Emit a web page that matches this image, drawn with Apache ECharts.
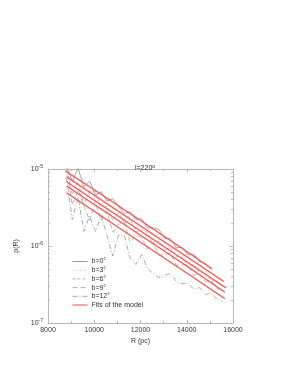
<!DOCTYPE html>
<html><head><meta charset="utf-8">
<script src="https://cdn.jsdelivr.net/npm/echarts@6/dist/echarts.min.js"></script>
<style>html,body{margin:0;padding:0;background:#fff}#c{width:282px;height:365px}</style>
</head><body><div id="c"></div>
<script>
// radii of the data samples (pc)
const R = [8800, 9050, 9300, 9550, 9800, 10050, 10300, 10550, 10800, 11050, 11300, 11550, 11800, 12050,
           12300, 12550, 12800, 13050, 13300, 13550, 13800, 14050, 14300, 14550, 14800, 15050, 15300, 15550];
// observed densities for each latitude
const b0 = [1.16e-5, 6.84e-6, 1.035e-5, 5.82e-6, 7.0e-6, 4.52e-6, 5.07e-6, 3.85e-6, 4.12e-6, 3.27e-6, 2.66e-6, 2.79e-6,
            2.21e-6, 2.26e-6, 1.72e-6, 1.72e-6, 1.64e-6, 1.245e-6, 1.245e-6, 9.44e-7, 9.66e-7, 7.67e-7, 7.85e-7, 6.24e-7,
            5.96e-7, 5.07e-7];
const b3 = [1.12e-5, 7.41e-6, 5.01e-6, 7.41e-6, 4.57e-6, 5.13e-6, 3.55e-6, 4.17e-6, 3.02e-6, 3.09e-6, 2.19e-6, 2.51e-6,
            2.09e-6, 1.66e-6, 1.74e-6, 1.35e-6, 1.41e-6, 1.12e-6, 9.33e-7, 9.55e-7, 7.59e-7, 7.76e-7, 6.17e-7, 5.89e-7,
            4.68e-7, 4.68e-7, 3.80e-7, 3.63e-7];
const b6 = [1.08e-5, 4.62e-6, 6.84e-6, 3.43e-6, 5.19e-6, 5.07e-6, 2.99e-6, 3.27e-6, 2.16e-6, 2.72e-6, 1.97e-6, 2.21e-6,
            1.53e-6, 1.60e-6, 1.50e-6, 1.06e-6, 1.16e-6, 8.81e-7, 9.66e-7, 7.33e-7, 7.16e-7, 5.43e-7, 5.82e-7, 4.52e-7,
            4.52e-7, 3.51e-7, 3.51e-7, 2.92e-7];
const b9 = [1.07e-5, 3.39e-6, 5.37e-6, 3.39e-6, 2.14e-6, 3.80e-6, 2.14e-6, 2.82e-6, 1.51e-6, 1.91e-6, 2.04e-6, 1.12e-6,
            1.38e-6, 1.29e-6, 9.12e-7, 1.12e-6, 7.59e-7, 7.76e-7, 8.13e-7, 5.62e-7, 5.75e-7, 5.62e-7, 4.17e-7, 4.37e-7,
            3.47e-7, 3.55e-7, 2.82e-7, 2.69e-7];
const b12 = [7.76e-6, 2.19e-6, 4.37e-6, 1.55e-6, 2.45e-6, 1.55e-6, 2.45e-6, 1.38e-6, 7.41e-7, 1.38e-6, 1.38e-6, 6.92e-7,
             5.75e-7, 7.76e-7, 5.13e-7, 4.37e-7, 3.89e-7, 4.17e-7, 4.37e-7, 3.47e-7, 3.24e-7, 3.31e-7, 2.75e-7, 2.88e-7,
             2.34e-7, 2.45e-7, 2.04e-7, 1.91e-7];
// model fits
const fitR = [[8750, 10000, 12000, 14000, 15100],
              [8800, 10000, 12000, 14000, 15600],
              [8800, 10000, 12000, 14000, 15700],
              [8800, 10000, 12000, 14000, 15650],
              [8800, 10000, 12000, 14000, 15650]];
const fitV = [[9.44e-6, 5.37e-6, 2.14e-6, 8.51e-7, 5.01e-7],
              [7.94e-6, 4.57e-6, 1.82e-6, 7.24e-7, 3.47e-7],
              [6.84e-6, 3.94e-6, 1.57e-6, 6.24e-7, 2.84e-7],
              [6.03e-6, 3.47e-6, 1.38e-6, 5.50e-7, 2.51e-7],
              [4.90e-6, 2.82e-6, 1.12e-6, 4.47e-7, 2.06e-7]];
const names = ['b=0°', 'b=3°', 'b=6°', 'b=9°', 'b=12°'];
const fitName = 'Fits of the model';
const xTicks = [8000, 10000, 12000, 14000, 16000];

const obs = [b0, b3, b6, b9, b12];
const styles = [
  {color: '#9a9a9a', type: 'solid'},
  {color: '#c4c4c4', type: [1, 1.5]},
  {color: '#b0b0b0', type: [3, 2]},
  {color: '#b0b0b0', type: [5, 3]},
  {color: '#a0a0a0', type: [5, 2, 1, 2]}
];
const FONT = 'Liberation Sans';
const minorVals = [];
for (let e = -7; e < -5; e++) for (let k = 2; k <= 9; k++) minorVals.push(Math.log10(k) + e);

const series = [];
obs.forEach((arr, i) => {
  series.push({
    name: names[i], type: 'line', xAxisIndex: 0, yAxisIndex: 0, symbol: 'none',
    data: arr.map((v, j) => [R[j], v]),
    lineStyle: {width: 0.9, color: styles[i].color, type: styles[i].type},
    itemStyle: {color: styles[i].color}, clip: true, z: 2
  });
});
fitV.forEach((arr, i) => {
  series.push({
    name: fitName, type: 'line', xAxisIndex: 0, yAxisIndex: 0, symbol: 'none',
    data: arr.map((v, j) => [fitR[i][j], v]),
    lineStyle: {width: 1.2, color: '#ff4d4d'}, itemStyle: {color: '#ff4d4d'}, clip: true, z: 3
  });
});

const axisLine = {show: true, lineStyle: {color: '#b8b8b8', width: 1}};
const chart = echarts.init(document.getElementById('c'), null, {renderer: 'canvas'});
chart.setOption({
  animation: false,
  backgroundColor: '#fff',
  textStyle: {fontFamily: FONT},
  title: {
    text: 'l=220{s|o}', left: 140, top: 159, textAlign: 'center',
    textStyle: {fontSize: 7, fontWeight: 'normal', color: '#333', fontFamily: FONT,
      rich: {s: {fontSize: 5, verticalAlign: 'top', padding: [0, 0, 4, 0], color: '#333'}}}
  },
  grid: {left: 48, right: 49, top: 169, bottom: 42},
  legend: {
    orient: 'vertical', left: 67, top: 253, itemWidth: 15, itemHeight: 6, itemGap: 1.7,
    data: names.concat([fitName]),
    itemStyle: {opacity: 0},
    lineStyle: {width: 1},
    textStyle: {fontSize: 7, color: '#333', fontFamily: FONT, padding: [0, 0, 0, -1]}
  },
  xAxis: [{
    type: 'value', min: 8000, max: 16000, interval: 2000,
    name: 'R (pc)', nameLocation: 'middle', nameGap: 15,
    nameTextStyle: {fontSize: 7, color: '#333', fontFamily: FONT},
    axisLine: axisLine,
    axisTick: {inside: true, length: 3, lineStyle: {color: '#b8b8b8'}},
    minorTick: {show: true, splitNumber: 2, length: 2, lineStyle: {color: '#b8b8b8'}},
    axisLabel: {fontSize: 7, color: '#333', margin: 4, fontFamily: FONT, formatter: v => String(v)},
    splitLine: {show: false}
  }, {
    type: 'value', min: 8000, max: 16000, interval: 2000, position: 'top',
    axisLine: axisLine,
    axisTick: {inside: true, length: 3, lineStyle: {color: '#b8b8b8'}},
    minorTick: {show: true, splitNumber: 2, length: 2, lineStyle: {color: '#b8b8b8'}},
    axisLabel: {show: false}, splitLine: {show: false}
  }],
  yAxis: [{
    type: 'log', logBase: 10, min: 1e-7, max: 1e-5,
    name: 'ρ(R)', nameLocation: 'middle', nameGap: 19,
    nameTextStyle: {fontSize: 7, color: '#333', fontFamily: FONT},
    axisLine: axisLine,
    axisTick: {inside: true, length: 4, lineStyle: {color: '#b8b8b8'}},
    axisLabel: {
      fontSize: 7, color: '#333', margin: 5, fontFamily: FONT,
      formatter: v => '10{s|' + Math.round(Math.log10(v)) + '}',
      rich: {s: {fontSize: 5, verticalAlign: 'top', padding: [0, 0, 4, 0], color: '#333'}}
    },
    splitLine: {show: false}
  }, {
    type: 'log', logBase: 10, min: 1e-7, max: 1e-5, position: 'right',
    axisLine: axisLine,
    axisTick: {inside: true, length: 4, lineStyle: {color: '#b8b8b8'}},
    axisLabel: {show: false}, splitLine: {show: false}
  }, {
    type: 'value', min: -7, max: -5, position: 'left',
    axisLine: {show: false},
    axisTick: {inside: true, length: 2, customValues: minorVals, lineStyle: {color: '#b8b8b8'}},
    axisLabel: {show: false}, splitLine: {show: false}
  }, {
    type: 'value', min: -7, max: -5, position: 'right',
    axisLine: {show: false},
    axisTick: {inside: true, length: 2, customValues: minorVals, lineStyle: {color: '#b8b8b8'}},
    axisLabel: {show: false}, splitLine: {show: false}
  }],
  series: series
});
</script></body></html>
